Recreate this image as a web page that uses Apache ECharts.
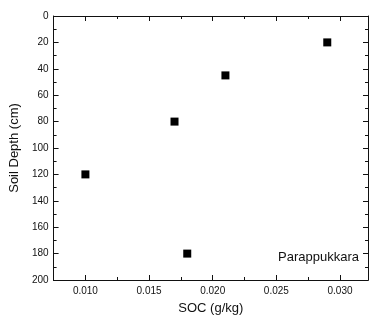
<!DOCTYPE html>
<html>
<head>
<meta charset="utf-8">
<script src="https://cdn.jsdelivr.net/npm/echarts@6/dist/echarts.min.js"></script>
<style>
  html, body { margin: 0; padding: 0; background: #fff; }
  #chart { width: 369px; height: 320px; }
</style>
</head>
<body>
<div id="chart"></div>
<script>
// data
const soc = [0.029, 0.021, 0.017, 0.010, 0.018];
const depth = [20, 45, 80, 120, 180];

// tick values
const xMajor = [0.010, 0.015, 0.020, 0.025, 0.030];
const xMinor = [0.0125, 0.0175, 0.0225, 0.0275, 0.0325];
const yMajor = [0, 20, 40, 60, 80, 100, 120, 140, 160, 180, 200];

const siteName = 'Parappukkara';

const FONT = 'Liberation Sans, Arial, sans-serif';
const INK = '#111';

const chart = echarts.init(document.getElementById('chart'));

// 一个x轴的公共配置
const makeX = (position, ticks, len, withLabel) => ({
  type: 'value',
  position: position,
  min: 0.0075,
  max: 0.0322,
  interval: 0.0025,
  axisLine: { show: true, onZero: false, lineStyle: { color: INK, width: 1 } },
  axisTick: { show: true, inside: true, length: len, customValues: ticks, lineStyle: { color: INK } },
  axisLabel: withLabel
    ? { show: true, customValues: ticks, margin: 6, fontSize: 10, fontFamily: FONT, color: INK,
        formatter: v => v.toFixed(3) }
    : { show: false },
  splitLine: { show: false }
});

const makeY = (position, withLabel) => ({
  type: 'value',
  position: position,
  inverse: true,
  min: 0,
  max: 200,
  interval: 20,
  axisLine: { show: true, onZero: false, lineStyle: { color: INK, width: 1 } },
  axisTick: { show: true, inside: true, length: 5, customValues: yMajor, lineStyle: { color: INK } },
  minorTick: { show: true, splitNumber: 2, length: 3, lineStyle: { color: INK } },
  axisLabel: withLabel
    ? { show: true, customValues: yMajor, margin: 5, fontSize: 10, fontFamily: FONT, color: INK }
    : { show: false },
  splitLine: { show: false }
});

const xBottom = makeX('bottom', xMajor, 5, true);
xBottom.name = 'SOC (g/kg)';
xBottom.nameLocation = 'middle';
xBottom.nameGap = 22;
xBottom.nameTextStyle = { fontSize: 13, fontFamily: FONT, color: INK };

const yLeft = makeY('left', true);
yLeft.name = 'Soil Depth (cm)';
yLeft.nameLocation = 'middle';
yLeft.nameGap = 30;
yLeft.nameRotate = 90;
yLeft.nameTextStyle = { fontSize: 13, fontFamily: FONT, color: INK };

const option = {
  animation: false,
  backgroundColor: '#fff',
  grid: { left: 51, right: 1, top: 16, bottom: 36 },
  title: {
    text: siteName,
    left: 278,
    top: 251,
    padding: 0,
    textStyle: { fontSize: 13, fontWeight: 'normal', fontFamily: FONT, color: INK }
  },
  xAxis: [
    xBottom,
    makeX('bottom', xMinor, 3, false),
    makeX('top', xMajor, 5, false),
    makeX('top', xMinor, 3, false)
  ],
  yAxis: [
    yLeft,
    makeY('right', false)
  ],
  series: [
    {
      type: 'scatter',
      xAxisIndex: 0,
      yAxisIndex: 0,
      symbol: 'rect',
      symbolSize: 8,
      itemStyle: { color: '#000', opacity: 1 },
      data: soc.map((v, i) => [v, depth[i]])
    }
  ]
};

chart.setOption(option);
</script>
</body>
</html>
